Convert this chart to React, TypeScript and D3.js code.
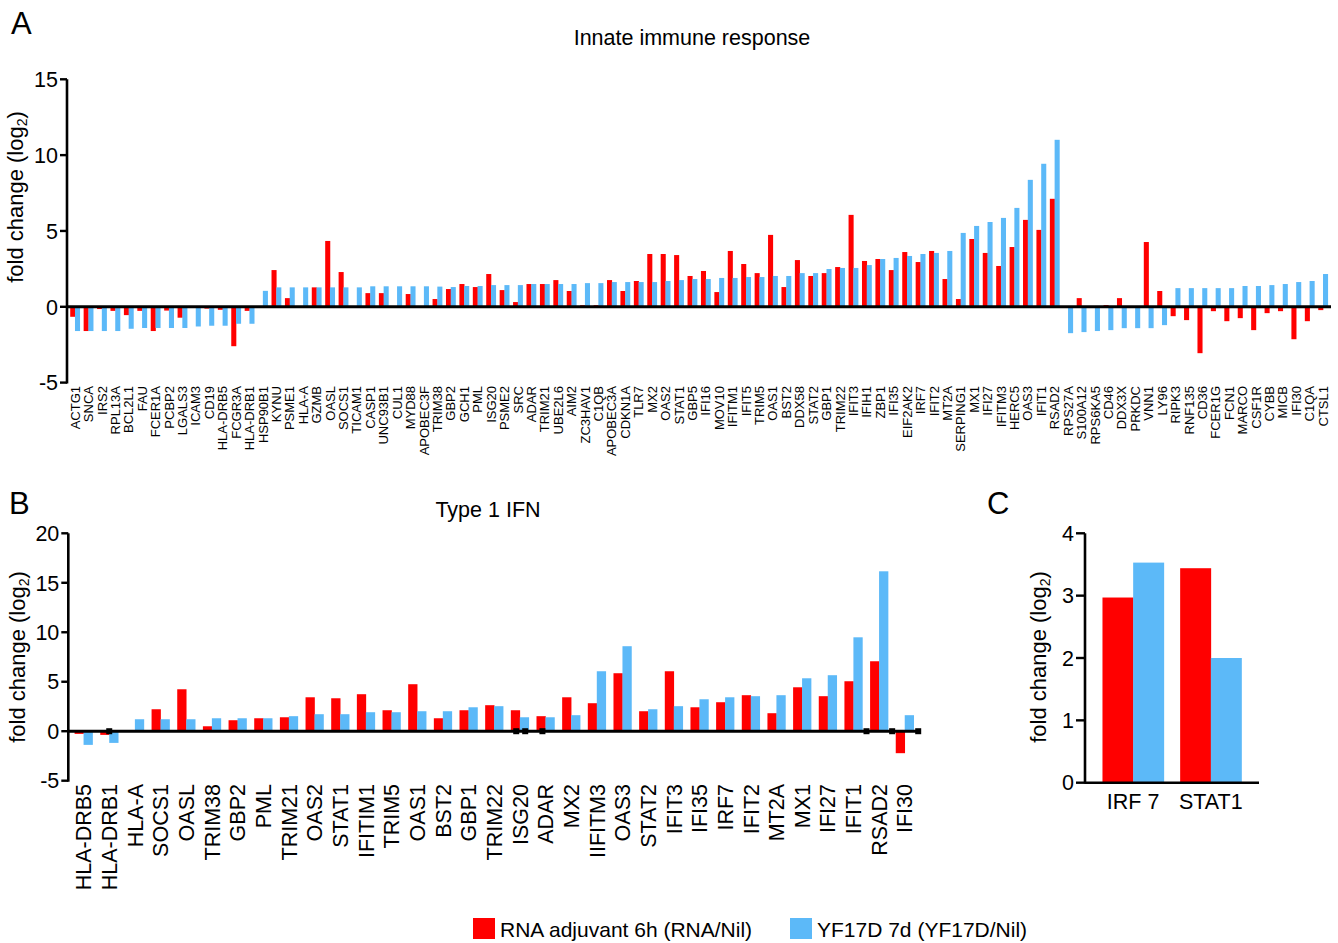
import React from 'react';
import * as d3 from 'd3';

// Panel A: innate immune response genes
const genesA = ['ACTG1', 'SNCA', 'IRS2', 'RPL13A', 'BCL2L1', 'FAU', 'FCER1A', 'PCBP2', 'LGALS3', 'ICAM3',
  'CD19', 'HLA-DRB5', 'FCGR3A', 'HLA-DRB1', 'HSP90B1', 'KYNU', 'PSME1', 'HLA-A', 'GZMB', 'OASL',
  'SOCS1', 'TICAM1', 'CASP1', 'UNC93B1', 'CUL1', 'MYD88', 'APOBEC3F', 'TRIM38', 'GBP2', 'GCH1',
  'PML', 'ISG20', 'PSME2', 'SRC', 'ADAR', 'TRIM21', 'UBE2L6', 'AIM2', 'ZC3HAV1', 'C1QB',
  'APOBEC3A', 'CDKN1A', 'TLR7', 'MX2', 'OAS2', 'STAT1', 'GBP5', 'IFI16', 'MOV10', 'IFITM1',
  'IFIT5', 'TRIM5', 'OAS1', 'BST2', 'DDX58', 'STAT2', 'GBP1', 'TRIM22', 'IFIT3', 'IFIH1',
  'ZBP1', 'IFI35', 'EIF2AK2', 'IRF7', 'IFIT2', 'MT2A', 'SERPING1', 'MX1', 'IFI27', 'IFITM3',
  'HERC5', 'OAS3', 'IFIT1', 'RSAD2', 'RPS27A', 'S100A12', 'RPS6KA5', 'CD46', 'DDX3X', 'PRKDC',
  'VNN1', 'LY96', 'RIPK3', 'RNF135', 'CD36', 'FCER1G', 'FCN1', 'MARCO', 'CSF1R', 'CYBB',
  'MICB', 'IFI30', 'C1QA', 'CTSL1'];
const rnaA = [-0.66, -1.6, -0.15, -0.27, -0.55, -0.27, -1.6, -0.25, -0.72, 0,
  -0.12, -0.2, -2.6, -0.27, 0, 2.42, 0.57, 0.05, 1.28, 4.34,
  2.29, 0, 0.9, 0.9, 0, 0.84, 0.05, 0.51, 1.17, 1.5,
  1.3, 2.16, 1.1, 0.31, 1.5, 1.5, 1.76, 1.04, 0.1, 0.1,
  1.76, 1.04, 1.7, 3.48, 3.48, 3.41, 2.03, 2.36, 0.97, 3.68,
  2.82, 2.22, 4.74, 1.3, 3.08, 2.03, 2.22, 2.62, 6.06, 3.02,
  3.15, 2.42, 3.61, 2.95, 3.68, 1.83, 0.51, 4.47, 3.55, 2.69,
  3.94, 5.73, 5.07, 7.12, 0, 0.57, 0, 0.11, 0.57, 0,
  4.27, 1.04, -0.62, -0.88, -3.06, -0.29, -0.95, -0.75, -1.54, -0.42,
  -0.29, -2.14, -0.95, -0.22];
const yfA = [-1.6, -1.6, -1.6, -1.6, -1.45, -1.4, -1.4, -1.4, -1.4, -1.3,
  -1.25, -1.25, -1.12, -1.12, 1.05, 1.28, 1.28, 1.28, 1.28, 1.28,
  1.28, 1.28, 1.35, 1.35, 1.35, 1.35, 1.35, 1.33, 1.3, 1.37,
  1.37, 1.43, 1.43, 1.43, 1.5, 1.5, 1.5, 1.5, 1.56, 1.56,
  1.63, 1.63, 1.63, 1.63, 1.7, 1.76, 1.83, 1.83, 1.9, 1.9,
  1.96, 1.96, 2.03, 2.03, 2.22, 2.22, 2.49, 2.56, 2.56, 2.75,
  3.15, 3.22, 3.35, 3.48, 3.55, 3.68, 4.87, 5.33, 5.59, 5.86,
  6.52, 8.37, 9.43, 11.01, -1.74, -1.67, -1.6, -1.54, -1.41, -1.41,
  -1.41, -1.21, 1.23, 1.23, 1.23, 1.23, 1.23, 1.37, 1.37, 1.43,
  1.5, 1.63, 1.7, 2.16];
const ticksA = [-5, 0, 5, 10, 15];

// Panel B: type 1 IFN genes
const genesB = ['HLA-DRB5', 'HLA-DRB1', 'HLA-A', 'SOCS1', 'OASL', 'TRIM38', 'GBP2', 'PML', 'TRIM21', 'OAS2',
  'STAT1', 'IFITIM1', 'TRIM5', 'OAS1', 'BST2', 'GBP1', 'TRIM22', 'ISG20', 'ADAR', 'MX2',
  'IIFITM3', 'OAS3', 'STAT2', 'IFIT3', 'IFI35', 'IRF7', 'IFIT2', 'MT2A', 'MX1', 'IFI27',
  'IFIT1', 'RSAD2', 'IFI30'];
const rnaB = [-0.27, -0.37, 0, 2.22, 4.24, 0.5, 1.11, 1.31, 1.41, 3.43,
  3.33, 3.74, 2.12, 4.75, 1.31, 2.12, 2.63, 2.12, 1.52, 3.43,
  2.83, 5.86, 2.02, 6.06, 2.42, 2.93, 3.64, 1.82, 4.44, 3.54,
  5.05, 7.07, -2.22];
const yfB = [-1.38, -1.18, 1.21, 1.21, 1.21, 1.31, 1.31, 1.31, 1.52, 1.72,
  1.72, 1.92, 1.92, 2.02, 2.02, 2.42, 2.53, 1.41, 1.41, 1.62,
  6.06, 8.59, 2.22, 2.53, 3.23, 3.43, 3.54, 3.64, 5.35, 5.66,
  9.49, 16.16, 1.62];
// small black markers on the zero line: gene and slot within the group
const markerGenesB = ['HLA-DRB1', 'ISG20', 'ISG20', 'ADAR', 'RSAD2', 'IFI30', 'IFI30'];
const markerSlotsB = [0.5, 0.3, 0.8, 0.33, -0.2, -0.2, 1.25];
const ticksB = [-5, 0, 5, 10, 15, 20];

// Panel C
const genesC = ['IRF 7', 'STAT1'];
const rnaC = [2.97, 3.44];
const yfC = [3.53, 2.0];
const ticksC = [0, 1, 2, 3, 4];

const seriesNames = ['RNA adjuvant 6h (RNA/Nil)', 'YF17D 7d (YF17D/Nil)'];
const RED = '#ff0000';
const BLUE = '#5cb9f8';
const FONT = '"Liberation Sans", Arial, Helvetica, sans-serif';
const FS = 21.5;

const YLabel = ({ x, y }: { x: number; y: number }) => (
  <text transform={`translate(${x},${y}) rotate(-90)`} textAnchor="middle" fontSize={22}>
    <tspan>fold change (log</tspan>
    <tspan fontSize={14} dy={4}>2</tspan>
    <tspan dy={-4}>)</tspan>
  </text>
);

const YAxis = ({ y, ticks, x, tickLen }: { y: d3.ScaleLinear<number, number>; ticks: number[]; x: number; tickLen: number }) => {
  const [r0, r1] = y.range();
  return (
    <g>
      <line x1={x} x2={x} y1={r0 + 1} y2={r1} stroke="#000" strokeWidth={2.6} />
      {ticks.map(t => (
        <g key={t}>
          <line x1={x - tickLen} x2={x} y1={y(t)} y2={y(t)} stroke="#000" strokeWidth={2.4} />
          <text x={x - tickLen - 2} y={y(t)} dy="0.36em" textAnchor="end" fontSize={FS}>{t}</text>
        </g>
      ))}
    </g>
  );
};

const GroupedBars = ({ genes, a, b, x, y }: {
  genes: string[]; a: number[]; b: number[];
  x: d3.ScaleBand<string>; y: d3.ScaleLinear<number, number>;
}) => {
  const sub = d3.scaleBand<number>().domain([0, 1]).range([0, x.bandwidth()]);
  return (
    <g>
      {genes.map((g, i) => [a[i], b[i]].map((v, k) => (
        <rect key={g + k}
          x={(x(g) as number) + (sub(k) as number)}
          y={Math.min(y(v), y(0))}
          width={sub.bandwidth() + 0.3}
          height={Math.abs(y(v) - y(0))}
          fill={k === 0 ? RED : BLUE} />
      )))}
    </g>
  );
};

export default function App() {
  // ---- Panel A
  const xA = d3.scaleBand<string>().domain(genesA).range([67, 1331]).paddingInner(0.29).paddingOuter(0.24);
  const yA = d3.scaleLinear().domain([-5, 15]).range([382.6, 79.3]);

  // ---- Panel B
  const xB = d3.scaleBand<string>().domain(genesB).range([68.3, 920]).paddingInner(0.3).paddingOuter(0.245);
  const yB = d3.scaleLinear().domain([-5, 20]).range([780.7, 533.3]);

  // ---- Panel C
  const xC = d3.scaleBand<string>().domain(genesC).range([1085, 1259]).paddingInner(0.21).paddingOuter(0.225);
  const yC = d3.scaleLinear().domain([0, 4]).range([782.7, 533.3]);

  return (
    <svg width={1338} height={943} style={{ position: 'absolute', left: 0, top: 0, background: '#fff' }}
      fontFamily={FONT} fill="#000">
      <rect width={1338} height={943} fill="#fff" />

      {/* Panel letters and titles */}
      <text x={11} y={34} fontSize={31}>A</text>
      <text x={9} y={514} fontSize={31}>B</text>
      <text x={987} y={514} fontSize={31}>C</text>
      <text x={692} y={45} textAnchor="middle" fontSize={FS}>Innate immune response</text>
      <text x={488} y={517} textAnchor="middle" fontSize={FS}>Type 1 IFN</text>

      {/* Panel A */}
      <GroupedBars genes={genesA} a={rnaA} b={yfA} x={xA} y={yA} />
      <line x1={67} x2={1331} y1={yA(0)} y2={yA(0)} stroke="#000" strokeWidth={3} />
      <YAxis y={yA} ticks={ticksA} x={67} tickLen={7} />
      <YLabel x={23} y={197} />
      {genesA.map(g => (
        <text key={g} fontSize={13}
          transform={`translate(${(xA(g) as number) + xA.bandwidth() / 2},${386}) rotate(-90)`}
          dy="0.36em" textAnchor="end">{g}</text>
      ))}

      {/* Panel B */}
      <GroupedBars genes={genesB} a={rnaB} b={yfB} x={xB} y={yB} />
      <line x1={68} x2={920} y1={yB(0)} y2={yB(0)} stroke="#000" strokeWidth={3} />
      {markerGenesB.map((g, i) => (
        <rect key={'m' + i}
          x={(xB(g) as number) + markerSlotsB[i] * xB.bandwidth() - 3}
          y={yB(0) - 3} width={6} height={6} fill="#000" />
      ))}
      <YAxis y={yB} ticks={ticksB} x={68.3} tickLen={7} />
      <YLabel x={25} y={657} />
      {genesB.map(g => (
        <text key={g} fontSize={FS}
          transform={`translate(${(xB(g) as number) + xB.bandwidth() / 2},${784}) rotate(-90)`}
          dy="0.36em" textAnchor="end">{g}</text>
      ))}

      {/* Panel C */}
      <GroupedBars genes={genesC} a={rnaC} b={yfC} x={xC} y={yC} />
      <line x1={1085} x2={1259} y1={yC(0)} y2={yC(0)} stroke="#000" strokeWidth={2.6} />
      <YAxis y={yC} ticks={ticksC} x={1085} tickLen={9} />
      <YLabel x={1046} y={657} />
      {genesC.map(g => (
        <text key={g} x={(xC(g) as number) + xC.bandwidth() / 2} y={809} textAnchor="middle" fontSize={FS}>{g}</text>
      ))}

      {/* Legend */}
      {seriesNames.map((s, i) => (
        <g key={s} transform={`translate(${i === 0 ? 473 : 790},918)`}>
          <rect width={22} height={21} fill={i === 0 ? RED : BLUE} />
          <text x={27} y={19} fontSize={21}>{s}</text>
        </g>
      ))}
    </svg>
  );
}
